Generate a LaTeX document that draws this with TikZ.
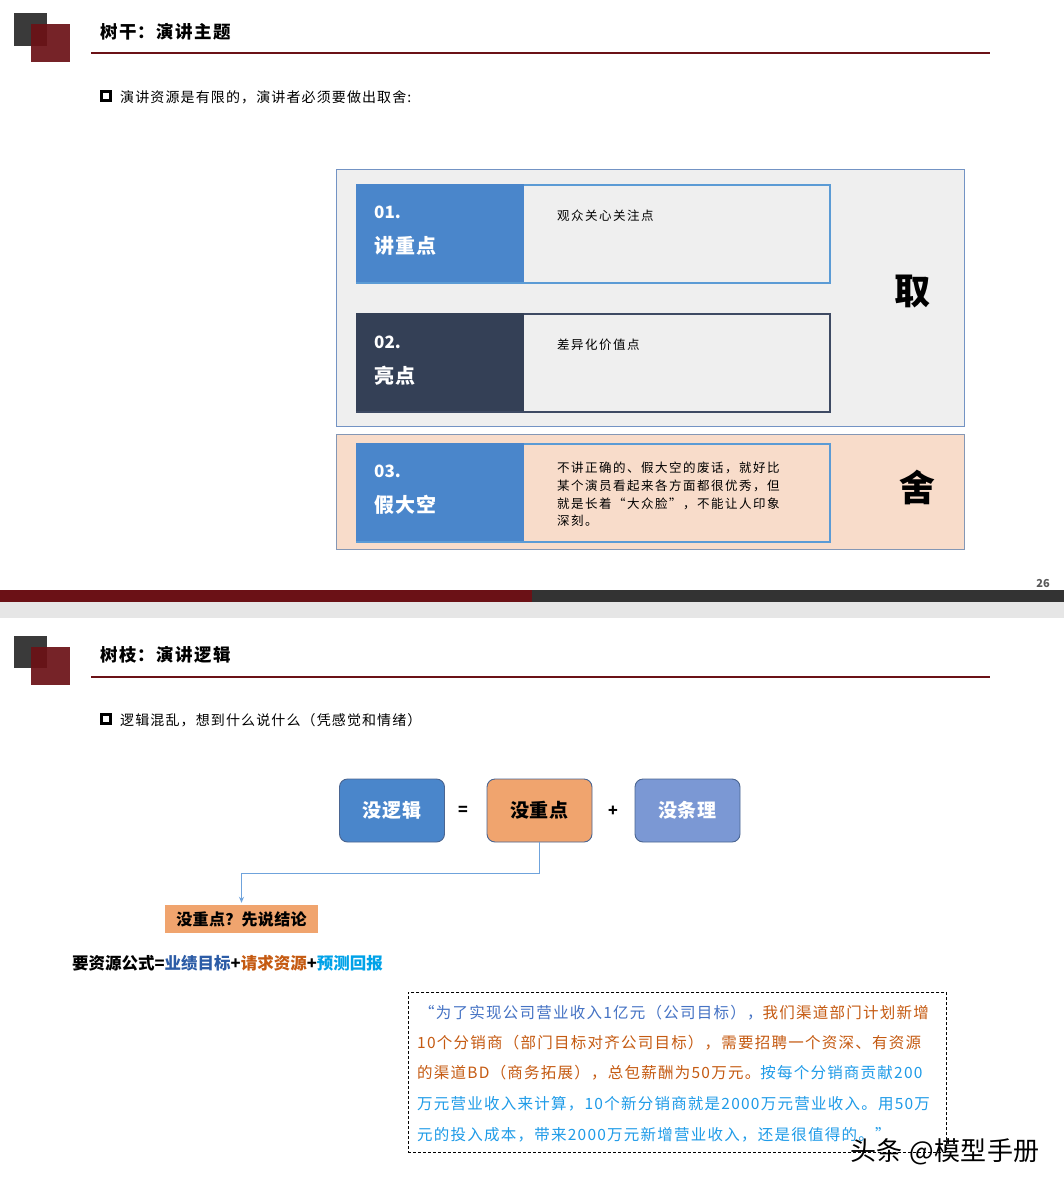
\documentclass[tikz,border=0pt]{standalone}
\usepackage{fontspec}
\setmainfont{Noto Sans CJK SC}
\usetikzlibrary{arrows.meta}
\definecolor{dkred}{HTML}{6B1116}
\definecolor{dkgrey}{HTML}{3A3A3A}
\definecolor{barGrey}{HTML}{333333}
\definecolor{bandGrey}{HTML}{E6E6E6}
\definecolor{panelGrey}{HTML}{EFEFEF}
\definecolor{peach}{HTML}{F8DCCA}
\definecolor{frameBlue}{HTML}{7393C4}
\definecolor{frameBlue2}{HTML}{8497B5}
\definecolor{lightBlue}{HTML}{5B9BD5}
\definecolor{midBlue}{HTML}{4A86CB}
\definecolor{navy}{HTML}{344056}
\definecolor{navyLine}{HTML}{3E4A63}
\definecolor{orangeBox}{HTML}{F0A46E}
\definecolor{lavBlue}{HTML}{7B98D4}
\definecolor{boxEdge}{HTML}{4A6591}
\definecolor{connBlue}{HTML}{6FA3DC}
\definecolor{fBlue}{HTML}{2C5CA6}
\definecolor{fOrange}{HTML}{C55A11}
\definecolor{fCyan}{HTML}{00A2E8}
\definecolor{pBlue}{HTML}{4472C4}
\definecolor{pOrange}{HTML}{C55A11}
\definecolor{pCyan}{HTML}{1E9BE8}
\definecolor{numGrey}{HTML}{595959}
\begin{document}
\begin{tikzpicture}[x=1pt,y=-1pt,
  txt/.style={inner sep=0pt,anchor=west},
  titletxt/.style={txt,font={\fontsize{17.5}{20}\selectfont\bfseries\addfontfeatures{LetterSpace=8}}},
  bullettxt/.style={txt,font={\fontsize{14}{17}\selectfont\addfontfeatures{LetterSpace=8}}},
  paneltxt/.style={txt,font={\fontsize{12.5}{15}\selectfont\addfontfeatures{LetterSpace=12}}},
  numtxt/.style={txt,text=white,font={\fontsize{17}{20}\selectfont\bfseries}},
  headtxt/.style={txt,text=white,font={\fontsize{20}{24}\selectfont\bfseries\addfontfeatures{LetterSpace=6}}},
  bigchar/.style={inner sep=0pt,font={\fontsize{36}{40}\selectfont\bfseries}},
  hline/.style={draw=dkred,line width=2.6pt},
  bulletbox/.style={draw=black,line width=2.3pt},
  logicbox/.style={draw=boxEdge,line width=0.9pt,rounded corners=8pt,minimum width=105pt,minimum height=63pt,inner sep=0pt,font={\fontsize{19}{22}\selectfont\bfseries\addfontfeatures{LetterSpace=4}}},
  optxt/.style={inner sep=0pt,font={\fontsize{16}{18}\selectfont\bfseries}},
  conn/.style={draw=connBlue,line width=1.2pt,-{Stealth[length=6pt,width=5pt]}},
  para/.style={txt,font={\fontsize{15.5}{18}\selectfont\addfontfeatures{LetterSpace=8}}},
  wm/.style={inner sep=0pt,anchor=east,font={\fontsize{26}{30}\selectfont\addfontfeatures{LetterSpace=2}}}
]
\useasboundingbox (0,0) rectangle (1064,1188);
\fill[white] (0,0) rectangle (1064,1188);

% ---------- slide 1 header ----------
\fill[dkgrey] (14,13) rectangle (47,46);
\fill[dkred,fill opacity=0.92] (31,24) rectangle (70,62);
\node[titletxt] (title1) at (100,32) {树干：演讲主题};
\draw[hline] (91,53) -- (990,53);
\draw[bulletbox] (101.5,91.5) rectangle (110.5,100.5);
\node[bullettxt] (bullet1) at (120,97) {演讲资源是有限的，演讲者必须要做出取舍:};

% ---------- frames ----------
\node[draw=frameBlue,line width=1.2pt,fill=panelGrey,minimum width=628pt,minimum height=257pt,inner sep=0pt,anchor=north west] (frameTake) at (336,169) {};
\node[draw=frameBlue2,line width=1.2pt,fill=peach,minimum width=628pt,minimum height=115pt,inner sep=0pt,anchor=north west] (frameDrop) at (336,434) {};

% item 01
\node[draw=lightBlue,line width=2pt,fill=panelGrey,minimum width=473pt,minimum height=98pt,inner sep=0pt,anchor=north west] (item1) at (356,184) {};
\fill[midBlue] (356,184) rectangle (524,282);
\node[numtxt] (n1) at (374,212) {01.};
\node[headtxt] (h1) at (374,246) {讲重点};
\node[paneltxt] (d1) at (557,216) {观众关心关注点};

% item 02
\node[draw=navyLine,line width=2pt,fill=panelGrey,minimum width=473pt,minimum height=98pt,inner sep=0pt,anchor=north west] (item2) at (356,313) {};
\fill[navy] (356,313) rectangle (524,411);
\node[numtxt] (n2) at (374,342) {02.};
\node[headtxt] (h2) at (374,376) {亮点};
\node[paneltxt] (d2) at (557,345) {差异化价值点};

% item 03
\node[draw=lightBlue,line width=2pt,fill=peach,minimum width=473pt,minimum height=98pt,inner sep=0pt,anchor=north west] (item3) at (356,443) {};
\fill[midBlue] (356,443) rectangle (524,541);
\node[numtxt] (n3) at (374,471) {03.};
\node[headtxt] (h3) at (374,505) {假大空};
\node[paneltxt] (d3a) at (557,468) {不讲正确的、假大空的废话，就好比};
\node[paneltxt] (d3b) at (557,486) {某个演员看起来各方面都很优秀，但};
\node[paneltxt] (d3c) at (557,503.5) {就是长着“大众脸”，不能让人印象};
\node[paneltxt] (d3d) at (557,521) {深刻。};

\node[bigchar] (take) at (912,292) {取};
\node[bigchar] (drop) at (917,487) {舍};

% ---------- footer ----------
\node[inner sep=0pt,text=numGrey,font={\fontsize{11}{12}\selectfont\bfseries}] (page) at (1043,584) {26};
\fill[dkred] (0,590) rectangle (532,602);
\fill[barGrey] (532,590) rectangle (1064,602);
\fill[bandGrey] (0,602) rectangle (1064,618);

% ---------- slide 2 header ----------
\fill[dkgrey] (14,636) rectangle (47,668);
\fill[dkred,fill opacity=0.92] (31,647) rectangle (70,685);
\node[titletxt] (title2) at (100,655) {树枝：演讲逻辑};
\draw[hline] (91,677) -- (990,677);
\draw[bulletbox] (101.5,714.5) rectangle (110.5,723.5);
\node[bullettxt] (bullet2) at (120,720) {逻辑混乱，想到什么说什么（凭感觉和情绪）};

% ---------- equation ----------
\node[logicbox,fill=midBlue,text=white] (mlj) at (392,810.5) {没逻辑};
\node[optxt] (eq) at (463,811) {=};
\node[logicbox,fill=orangeBox,text=black] (mzd) at (539.5,810.5) {没重点};
\node[optxt] (plus) at (613,811) {+};
\node[logicbox,fill=lavBlue,text=white] (mtl) at (687.5,810.5) {没条理};

\node[fill=orangeBox,minimum width=153pt,minimum height=28pt,inner sep=0pt,font={\fontsize{16}{18}\selectfont\bfseries\addfontfeatures{LetterSpace=2}}] (concl) at (241.5,919) {没重点？先说结论};
\draw[conn] (mzd.south) -- ++(0,31) -| ([yshift=2pt]concl.north);

\node[txt,font={\fontsize{16.5}{19}\selectfont\bfseries}] (formula) at (72,963) {要资源公式=\textcolor{fBlue}{业绩目标}+\textcolor{fOrange}{请求资源}+\textcolor{fCyan}{预测回报}};

% ---------- quote box ----------
\node[draw=black,dashed,dash pattern=on 3pt off 2pt,line width=0.8pt,minimum width=538pt,minimum height=160pt,inner sep=0pt,anchor=north west] (quote) at (408,992) {};
\node[para] (q1) at (419,1013) {\textcolor{pBlue}{“为了实现公司营业收入1亿元（公司目标），}\textcolor{pOrange}{我们渠道部门计划新增}};
\node[para,text=pOrange] (q2) at (417,1043) {10个分销商（部门目标对齐公司目标），需要招聘一个资深、有资源};
\node[para] (q3) at (417,1073) {\textcolor{pOrange}{的渠道BD（商务拓展），总包薪酬为50万元。}\textcolor{pCyan}{按每个分销商贡献200}};
\node[para,text=pCyan] (q4) at (417,1104) {万元营业收入来计算，10个新分销商就是2000万元营业收入。用50万};
\node[para,text=pCyan] (q5) at (417,1135) {元的投入成本，带来2000万元新增营业收入，还是很值得的。”};

% ---------- watermark ----------
\node[wm,text=black] (wmark) at (1040,1152) {头条 @模型手册};
\end{tikzpicture}
\end{document}
